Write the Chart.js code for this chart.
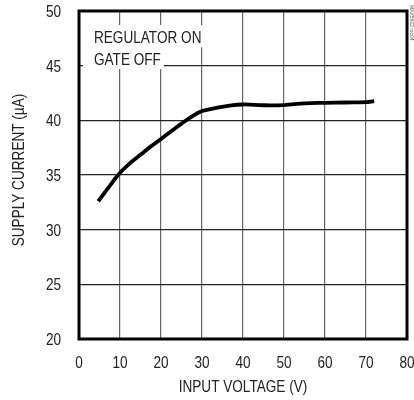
<!DOCTYPE html>
<html>
<head>
<meta charset="utf-8">
<script src="https://cdn.jsdelivr.net/npm/chart.js@4"></script>
<style>
  html, body { margin: 0; padding: 0; background: #fff; }
  #grafico { display: block; }
</style>
</head>
<body>
<canvas id="grafico" width="414" height="400"></canvas>
<script>
// datos
const voltajes = [4.7, 7.5, 10, 12.5, 15, 17.5, 20, 22.5, 25, 27.5, 30, 33, 36, 40, 45, 50, 55, 60, 65, 70, 72];
const corrientes = [32.6, 34.0, 35.2, 36.1, 36.85, 37.6, 38.3, 39.0, 39.7, 40.35, 40.85, 41.1, 41.3, 41.45, 41.38, 41.4, 41.55, 41.6, 41.63, 41.66, 41.75];

const ticksX = [0, 10, 20, 30, 40, 50, 60, 70, 80];
const ticksY = [20, 25, 30, 35, 40, 45, 50];

const tituloX = "INPUT VOLTAGE (V)";
const tituloY = "SUPPLY CURRENT (µA)";
const notaLineas = ["REGULATOR ON", "GATE OFF"];
const codigoFigura = "MAX5902 toc04";

// fuente tipo helvetica angosta: arial comprimido horizontalmente
const fuente = "'Liberation Sans', Arial, sans-serif";
const compresion = 0.81;
const tamano = 16.8;

function textoAngosto(ctx, texto, x, y, alineacion, giro) {
    ctx.save();
    ctx.translate(x, y);
    if (giro) {
        ctx.rotate(giro);
    }
    ctx.scale(compresion, 1);
    ctx.textAlign = alineacion;
    ctx.textBaseline = "alphabetic";
    ctx.fillText(texto, 0, 0);
    ctx.restore();
}

// nota con fondo blanco, etiquetas, marco grueso y codigo al costado
const pluginExtras = {
    id: "extras",
    beforeDatasetsDraw(chart) {
        const ctx = chart.ctx;
        const x = chart.scales.x;
        const y = chart.scales.y;
        ctx.save();
        ctx.font = tamano + "px " + fuente;
        const xTexto = x.getPixelForValue(3.65);
        const bases = [y.getPixelForValue(47.05), y.getPixelForValue(45.05)];
        notaLineas.forEach((linea, i) => {
            const ancho = ctx.measureText(linea).width * compresion;
            ctx.fillStyle = "#fff";
            ctx.fillRect(xTexto - 11, bases[i] - 18, ancho + 14, 22);
        });
        ctx.fillStyle = "#222";
        notaLineas.forEach((linea, i) => {
            textoAngosto(ctx, linea, xTexto, bases[i], "left", 0);
        });
        ctx.restore();
    },
    afterDraw(chart) {
        const ctx = chart.ctx;
        const area = chart.chartArea;
        const x = chart.scales.x;
        const y = chart.scales.y;
        ctx.save();
        ctx.strokeStyle = "#000";
        ctx.lineWidth = 3;
        ctx.strokeRect(area.left, area.top, area.right - area.left, area.bottom - area.top);

        // etiquetas de los ejes
        ctx.font = tamano + "px " + fuente;
        ctx.fillStyle = "#222";
        ticksY.forEach((v) => {
            textoAngosto(ctx, String(v), area.left - 18, y.getPixelForValue(v) + 6, "right", 0);
        });
        ticksX.forEach((v) => {
            textoAngosto(ctx, String(v), x.getPixelForValue(v), area.bottom + 29, "center", 0);
        });
        textoAngosto(ctx, tituloX, (area.left + area.right) / 2, area.bottom + 53, "center", 0);
        textoAngosto(ctx, tituloY, 24, (area.top + area.bottom) / 2 - 5, "center", -Math.PI / 2);

        // codigo pequeño vertical
        ctx.translate(area.right + 4, area.top - 6);
        ctx.rotate(Math.PI / 2);
        ctx.font = "5px " + fuente;
        ctx.fillStyle = "#555";
        ctx.textBaseline = "middle";
        ctx.fillText(codigoFigura, 0, 0);
        ctx.restore();
    }
};

function crearGrafico() {
    const puntos = voltajes.map((v, i) => ({ x: v, y: corrientes[i] }));

    const config = {
        type: "line",
        data: {
            datasets: [{
                data: puntos,
                borderColor: "#000",
                borderWidth: 3.8,
                pointRadius: 0,
                tension: 0.4,
                fill: false
            }]
        },
        options: {
            responsive: false,
            animation: false,
            devicePixelRatio: 1,
            layout: { padding: { top: 11, right: 7, left: 0, bottom: 0 } },
            plugins: {
                legend: { display: false },
                tooltip: { enabled: false }
            },
            scales: {
                x: {
                    type: "linear",
                    min: 0,
                    max: 80,
                    afterBuildTicks(scale) {
                        scale.ticks = ticksX.map((v) => ({ value: v }));
                    },
                    afterFit(scale) {
                        scale.height = 61;
                    },
                    grid: { color: "#666", lineWidth: 1.2, drawTicks: false },
                    border: { display: false },
                    ticks: { display: false }
                },
                y: {
                    type: "linear",
                    min: 20,
                    max: 50,
                    afterBuildTicks(scale) {
                        scale.ticks = ticksY.map((v) => ({ value: v }));
                    },
                    afterFit(scale) {
                        scale.width = 79;
                    },
                    grid: { color: "#222", lineWidth: 1.2, drawTicks: false },
                    border: { display: false },
                    ticks: { display: false }
                }
            }
        },
        plugins: [pluginExtras]
    };

    new Chart(document.getElementById("grafico"), config);
}

crearGrafico();
</script>
</body>
</html>
